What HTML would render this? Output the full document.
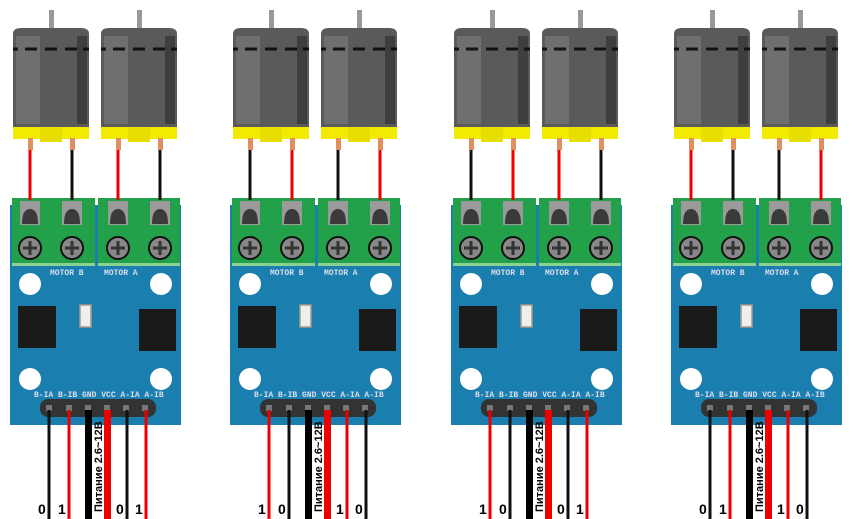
<!DOCTYPE html>
<html><head><meta charset="utf-8"><style>
html,body{margin:0;padding:0;background:#fff;width:853px;height:519px;overflow:hidden}
svg{display:block}
.lb{font-family:"Liberation Mono",monospace;font-size:8px;fill:#dde;font-weight:bold}
.bt{font-family:"Liberation Sans",sans-serif;font-size:14px;font-weight:bold;fill:#000}
.pv{font-family:"Liberation Sans",sans-serif;font-size:11px;font-weight:bold;fill:#000}
</style></head><body>
<svg width="853" height="519" viewBox="0 0 853 519" xmlns="http://www.w3.org/2000/svg">
<defs>
<g id="motor">
<rect x="36" y="10" width="5" height="20" fill="#999"/>
<path d="M0 34 Q0 28 8 28 L68 28 Q76 28 76 34 L76 127 L0 127 Z" fill="#5a5a5a"/>
<rect x="3" y="36" width="24" height="88" fill="#777" opacity="0.7"/>
<rect x="64" y="36" width="10" height="88" fill="#3e3e3e"/>
<path d="M0 49 h5 M12 49 h12 M32 49 h12 M52 49 h12 M70 49 h6" stroke="#111" stroke-width="3"/>
<rect x="0" y="127" width="76" height="12" fill="#f2ea00"/>
<rect x="27" y="127" width="22" height="15" fill="#e8df00"/>
<rect x="15" y="138" width="5" height="12" fill="#e09060"/>
<rect x="57" y="138" width="5" height="12" fill="#e09060"/>
</g>
<g id="term">
<rect x="8" y="201" width="20" height="24" fill="#9a9a9a"/>
<path d="M10 224 Q10 209 18 209 Q26 209 26 224 Z" fill="#3a3a3a"/>
<circle cx="18" cy="248" r="11" fill="#888" stroke="#111" stroke-width="2"/>
<path d="M11 248 h14 M18 241 v14" stroke="#333" stroke-width="3"/>
</g>
<g id="board">
<rect x="10" y="205" width="171" height="220" fill="#1a7fae"/>
<rect x="12" y="198" width="83" height="68" fill="#23a04a"/>
<rect x="98" y="198" width="82" height="68" fill="#23a04a"/>
<rect x="12" y="263" width="83" height="3" fill="#8bd18f"/>
<rect x="98" y="263" width="82" height="3" fill="#8bd18f"/>
<use href="#term" x="12"/><use href="#term" x="54"/><use href="#term" x="100"/><use href="#term" x="142"/>
<circle cx="30" cy="284" r="11" fill="#fff"/><circle cx="161" cy="284" r="11" fill="#fff"/>
<circle cx="30" cy="379" r="11" fill="#fff"/><circle cx="161" cy="379" r="11" fill="#fff"/>
<rect x="18" y="306" width="38" height="42" fill="#1a1a1a"/>
<rect x="139" y="309" width="37" height="42" fill="#1a1a1a"/>
<rect x="80" y="305" width="11" height="22" fill="#eee" stroke="#a98" stroke-width="1.5"/>
<rect x="40" y="399" width="116" height="18" rx="8" fill="#333"/>
<g fill="#777"><rect x="46" y="405" width="6" height="6"/><rect x="66" y="405" width="6" height="6"/><rect x="85" y="405" width="6" height="6"/><rect x="104" y="405" width="6" height="6"/><rect x="123" y="405" width="6" height="6"/><rect x="142" y="405" width="6" height="6"/></g>
</g>
</defs>

<!-- module 1 -->
<g>
<use href="#motor" x="13"/><use href="#motor" x="101"/>
<use href="#board"/>
<text class="lb" x="50" y="275">MOTOR B</text><text class="lb" x="104" y="275">MOTOR A</text>
<text class="lb" x="34" y="397">B-IA B-IB GND VCC A-IA A-IB</text>
<g stroke-width="3"><line x1="30" y1="150" x2="30" y2="200" stroke="#e00"/><line x1="72" y1="150" x2="72" y2="200" stroke="#111"/><line x1="118" y1="150" x2="118" y2="200" stroke="#e00"/><line x1="160" y1="150" x2="160" y2="200" stroke="#111"/>
<line x1="49" y1="410" x2="49" y2="519" stroke="#111"/><line x1="69" y1="410" x2="69" y2="519" stroke="#e00"/><line x1="127" y1="410" x2="127" y2="519" stroke="#111"/><line x1="146" y1="410" x2="146" y2="519" stroke="#e00"/></g>
<rect x="85" y="410" width="7" height="109" fill="#000"/><rect x="104" y="410" width="7" height="109" fill="#e00"/>
<text class="pv" transform="translate(102,512) rotate(-90)">Питание 2.6~12В</text>
<text class="bt" x="38" y="514">0</text><text class="bt" x="58" y="514">1</text><text class="bt" x="116" y="514">0</text><text class="bt" x="135" y="514">1</text>
</g>

<!-- module 2 -->
<g transform="translate(220,0)">
<use href="#motor" x="13"/><use href="#motor" x="101"/>
<use href="#board"/>
<text class="lb" x="50" y="275">MOTOR B</text><text class="lb" x="104" y="275">MOTOR A</text>
<text class="lb" x="34" y="397">B-IA B-IB GND VCC A-IA A-IB</text>
<g stroke-width="3"><line x1="30" y1="150" x2="30" y2="200" stroke="#111"/><line x1="72" y1="150" x2="72" y2="200" stroke="#e00"/><line x1="118" y1="150" x2="118" y2="200" stroke="#111"/><line x1="160" y1="150" x2="160" y2="200" stroke="#e00"/>
<line x1="49" y1="410" x2="49" y2="519" stroke="#e00"/><line x1="69" y1="410" x2="69" y2="519" stroke="#111"/><line x1="127" y1="410" x2="127" y2="519" stroke="#e00"/><line x1="146" y1="410" x2="146" y2="519" stroke="#111"/></g>
<rect x="85" y="410" width="7" height="109" fill="#000"/><rect x="104" y="410" width="7" height="109" fill="#e00"/>
<text class="pv" transform="translate(102,512) rotate(-90)">Питание 2.6~12В</text>
<text class="bt" x="38" y="514">1</text><text class="bt" x="58" y="514">0</text><text class="bt" x="116" y="514">1</text><text class="bt" x="135" y="514">0</text>
</g>

<!-- module 3 -->
<g transform="translate(441,0)">
<use href="#motor" x="13"/><use href="#motor" x="101"/>
<use href="#board"/>
<text class="lb" x="50" y="275">MOTOR B</text><text class="lb" x="104" y="275">MOTOR A</text>
<text class="lb" x="34" y="397">B-IA B-IB GND VCC A-IA A-IB</text>
<g stroke-width="3"><line x1="30" y1="150" x2="30" y2="200" stroke="#111"/><line x1="72" y1="150" x2="72" y2="200" stroke="#e00"/><line x1="118" y1="150" x2="118" y2="200" stroke="#e00"/><line x1="160" y1="150" x2="160" y2="200" stroke="#111"/>
<line x1="49" y1="410" x2="49" y2="519" stroke="#e00"/><line x1="69" y1="410" x2="69" y2="519" stroke="#111"/><line x1="127" y1="410" x2="127" y2="519" stroke="#111"/><line x1="146" y1="410" x2="146" y2="519" stroke="#e00"/></g>
<rect x="85" y="410" width="7" height="109" fill="#000"/><rect x="104" y="410" width="7" height="109" fill="#e00"/>
<text class="pv" transform="translate(102,512) rotate(-90)">Питание 2.6~12В</text>
<text class="bt" x="38" y="514">1</text><text class="bt" x="58" y="514">0</text><text class="bt" x="116" y="514">0</text><text class="bt" x="135" y="514">1</text>
</g>

<!-- module 4 -->
<g transform="translate(661,0)">
<use href="#motor" x="13"/><use href="#motor" x="101"/>
<use href="#board"/>
<text class="lb" x="50" y="275">MOTOR B</text><text class="lb" x="104" y="275">MOTOR A</text>
<text class="lb" x="34" y="397">B-IA B-IB GND VCC A-IA A-IB</text>
<g stroke-width="3"><line x1="30" y1="150" x2="30" y2="200" stroke="#e00"/><line x1="72" y1="150" x2="72" y2="200" stroke="#111"/><line x1="118" y1="150" x2="118" y2="200" stroke="#111"/><line x1="160" y1="150" x2="160" y2="200" stroke="#e00"/>
<line x1="49" y1="410" x2="49" y2="519" stroke="#111"/><line x1="69" y1="410" x2="69" y2="519" stroke="#e00"/><line x1="127" y1="410" x2="127" y2="519" stroke="#e00"/><line x1="146" y1="410" x2="146" y2="519" stroke="#111"/></g>
<rect x="85" y="410" width="7" height="109" fill="#000"/><rect x="104" y="410" width="7" height="109" fill="#e00"/>
<text class="pv" transform="translate(102,512) rotate(-90)">Питание 2.6~12В</text>
<text class="bt" x="38" y="514">0</text><text class="bt" x="58" y="514">1</text><text class="bt" x="116" y="514">1</text><text class="bt" x="135" y="514">0</text>
</g>
</svg>
</body></html>
